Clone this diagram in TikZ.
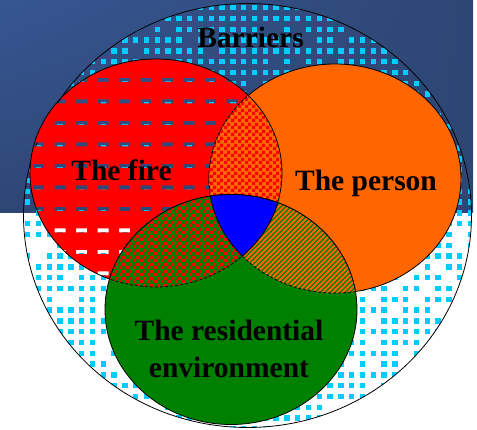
\documentclass[tikz,border=0pt]{standalone}
\usepackage{fontspec}
\setmainfont{Liberation Serif}
\usetikzlibrary{patterns,shadings}

\definecolor{slideblue}{RGB}{46,70,116}
\definecolor{slidelight}{RGB}{54,86,146}
\definecolor{sqcyan}{RGB}{0,204,255}
\definecolor{firered}{RGB}{255,0,0}
\definecolor{personorange}{RGB}{255,102,0}
\definecolor{envgreen}{RGB}{0,128,0}
\definecolor{coreblue}{RGB}{0,0,255}

\pgfdeclarepatternformonly{checker}{\pgfpointorigin}{\pgfpoint{7pt}{7pt}}{\pgfpoint{7pt}{7pt}}{%
  \pgfpathrectangle{\pgfpointorigin}{\pgfpoint{3.5pt}{3.5pt}}%
  \pgfpathrectangle{\pgfpoint{3.5pt}{3.5pt}}{\pgfpoint{3.5pt}{3.5pt}}%
  \pgfusepath{fill}}
\pgfdeclarepatternformonly{stripes}{\pgfpoint{-1pt}{-1pt}}{\pgfpoint{6pt}{6pt}}{\pgfpoint{5pt}{5pt}}{%
  \pgfsetlinewidth{1.8pt}%
  \pgfpathmoveto{\pgfpoint{-1pt}{-1pt}}\pgfpathlineto{\pgfpoint{6pt}{6pt}}%
  \pgfusepath{stroke}}

\newcommand{\barrierpath}{(247.5,215.5) ellipse [x radius=224pt, y radius=212pt]}
\newcommand{\firepath}{(156,173) ellipse [x radius=126pt, y radius=114pt]}
\newcommand{\personpath}{(335,178.5) ellipse [x radius=126pt, y radius=114.5pt]}
\newcommand{\envpath}{(231,309.5) ellipse [x radius=126pt, y radius=115pt]}

\begin{document}
\begin{tikzpicture}[x=1pt, y=-1pt, line width=0.8pt,
    every node/.style={font=\bfseries\fontsize{29.5}{37}\selectfont, align=center},
    inner/.style={dash pattern=on 3pt off 2pt}]
  \useasboundingbox (0,0) rectangle (477,430);
  \fill[white] (0,0) rectangle (477,430);
  \shade[upper left=slidelight, upper right=slideblue, lower left=slideblue, lower right=slideblue]
    (0,0) rectangle (473,213);

  % barrier squares
  \begin{scope}
    \clip \barrierpath;
    \foreach \i in {0,...,42}
      \foreach \j in {0,...,40} {
        \pgfmathtruncatemacro\keep{mod(\i*5+\j*7+3*mod(\i*\j,13)+2*mod(\i*\i,17),11)}
        \ifnum\keep>1 \fill[sqcyan] (25+10.8*\i,5+10.8*\j) rectangle ++(5.4,5.4); \fi
      }
  \end{scope}
  \draw \barrierpath;

  % the fire, with its holes
  \begin{scope}
    \clip \firepath;
    \fill[firered, even odd rule] (20,50) rectangle (290,300)
      \foreach \i in {0,...,11} {\foreach \j in {0,...,10} {(33+21.5*\i,78+21.5*\j) rectangle ++(11,4)}};
  \end{scope}
  \draw \firepath;
  \filldraw[fill=personorange] \personpath;
  \filldraw[fill=envgreen] \envpath;

  % overlaps
  \begin{scope}
    \clip \firepath;
    \fill[personorange] \personpath;
    \fill[pattern=checker, pattern color=firered] \personpath;
    \fill[envgreen] \envpath;
    \fill[pattern=checker, pattern color=firered] \envpath;
  \end{scope}
  \begin{scope}
    \clip \personpath;
    \fill[envgreen] \envpath;
    \fill[pattern=stripes, pattern color=personorange] \envpath;
  \end{scope}

  % arcs inside the overlaps
  \begin{scope}
    \clip \personpath;
    \draw \firepath;
    \draw \envpath;
  \end{scope}
  \begin{scope}
    \clip \firepath;
    \draw \envpath;
    \draw[inner] \personpath;
  \end{scope}
  \begin{scope}
    \clip \envpath;
    \draw[inner] \firepath;
    \draw[inner] \personpath;
  \end{scope}

  % common part
  \begin{scope}
    \clip \firepath;
    \clip \personpath;
    \filldraw[fill=coreblue] \envpath;
  \end{scope}
  \begin{scope}
    \clip \envpath;
    \clip \personpath;
    \draw \firepath;
  \end{scope}
  \begin{scope}
    \clip \envpath;
    \clip \firepath;
    \draw \personpath;
  \end{scope}

  \node[anchor=base] (barriers) at (250.5,48) {Barriers};
  \node[anchor=base] (fire) at (121.5,181) {The fire};
  \node[anchor=base] (person) at (366,191) {The person};
  \node (env) at (229,349) {The residential\\environment};
\end{tikzpicture}
\end{document}
